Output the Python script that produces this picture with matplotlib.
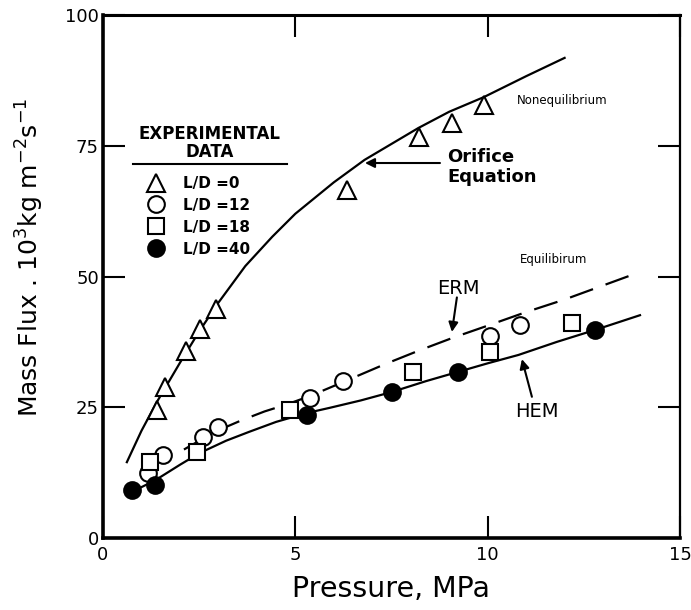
import matplotlib
matplotlib.use('Agg')
import matplotlib.pyplot as plt

# experimental data, pressure (MPa) vs mass flux (10^3 kg m^-2 s^-1)
ld0_p = [1.40, 1.61, 2.16, 2.52, 2.94, 6.34, 8.21, 9.07, 9.90]
ld0_g = [24.5, 28.9, 35.8, 40.0, 43.8, 66.5, 76.7, 79.3, 82.8]

ld12_p = [1.17, 1.56, 2.60, 2.99, 5.38, 6.24, 10.05, 10.84]
ld12_g = [12.4, 15.9, 19.3, 21.2, 26.8, 30.0, 38.6, 40.8]

ld18_p = [1.22, 2.44, 4.86, 8.06, 10.06, 12.19]
ld18_g = [14.5, 16.4, 24.5, 31.7, 35.6, 41.1]

ld40_p = [0.75, 1.35, 5.30, 7.51, 9.22, 12.79]
ld40_g = [9.2, 10.1, 23.5, 27.9, 31.7, 39.8]

# model curves
orifice_p = [0.62, 1.0, 1.4, 2.0, 2.5, 3.0, 3.7, 4.4, 5.0, 6.0, 6.8, 8.2, 9.0, 9.9, 11.0, 12.0]
orifice_g = [14.5, 20.5, 26.0, 33.5, 39.5, 45.0, 52.0, 57.6, 62.0, 68.0, 72.3, 78.4, 81.5, 84.3, 88.3, 91.8]

erm_p = [1.2, 1.6, 2.1, 2.6, 3.0, 3.6, 4.2, 4.8, 5.4, 6.3, 7.35, 8.2, 9.1, 10.0, 11.0, 12.0, 13.75]
erm_g = [14.2, 15.8, 16.9, 19.0, 20.6, 22.5, 24.2, 25.6, 27.2, 30.0, 33.3, 35.8, 38.3, 40.6, 43.2, 45.6, 50.3]

hem_p = [0.8, 1.35, 2.0, 2.5, 3.2, 3.8, 4.5, 5.3, 5.9, 6.7, 7.5, 8.4, 9.2, 10.0, 10.8, 11.8, 12.8, 13.96]
hem_g = [9.0, 11.0, 14.0, 16.2, 18.6, 20.3, 22.2, 23.9, 24.9, 26.3, 27.9, 30.0, 31.7, 33.4, 35.0, 37.5, 39.8, 42.6]

legend_labels = ['L/D =0', 'L/D =12', 'L/D =18', 'L/D =40']

fig = plt.figure(figsize=(6.91, 6.10), dpi=100)
ax = fig.add_axes([103 / 691, 1 - 538 / 610, 577 / 691, 523 / 610])

# curves
ax.plot(orifice_p, orifice_g, color='black', lw=1.6)
ax.plot(erm_p, erm_g, color='black', lw=1.6, dashes=(11, 6))
ax.plot(hem_p, hem_g, color='black', lw=1.6)

# points
mk = dict(linestyle='none', color='black', mew=1.5)
h0, = ax.plot(ld0_p, ld0_g, marker='^', ms=13, mfc='white', **mk)
h12, = ax.plot(ld12_p, ld12_g, marker='o', ms=12, mfc='white', **mk)
h18, = ax.plot(ld18_p, ld18_g, marker='s', ms=11, mfc='white', **mk)
h40, = ax.plot(ld40_p, ld40_g, marker='o', ms=12, mfc='black', **mk)

ax.set_xlim(0, 15)
ax.set_ylim(0, 100)
ax.set_xticks([0, 5, 10, 15])
ax.set_yticks([0, 25, 50, 75, 100])
ax.tick_params(direction='in', length=16, width=1.5, top=True, right=True, labelsize=13)
ax.tick_params(axis='x', pad=6)
ax.tick_params(axis='y', pad=3)
for side, w in [('left', 2.6), ('bottom', 2.6), ('top', 2.2), ('right', 1.6)]:
    ax.spines[side].set_linewidth(w)

ax.set_xlabel('Pressure, MPa', fontsize=20.5, labelpad=8)
ax.set_ylabel('Mass Flux . 10$^3$kg m$^{-2}$s$^{-1}$', fontsize=18)
ax.yaxis.set_label_coords(-0.098, 0.537)

# legend block
ax.text(0.185, 0.755, 'EXPERIMENTAL\nDATA', transform=ax.transAxes, ha='center', va='center',
        fontsize=12, fontweight='bold', linespacing=1.05)
ax.plot([0.052, 0.319], [0.715, 0.715], transform=ax.transAxes, color='black', lw=1.5)
ax.legend([h0, h12, h18, h40], legend_labels, loc='upper left', bbox_to_anchor=(0.066, 0.704),
          frameon=False, prop={'weight': 'bold', 'size': 11}, handlelength=1.2,
          handletextpad=1.15, labelspacing=0.45, borderaxespad=0)

# annotations
ax.text(10.76, 83.7, 'Nonequilibrium', fontsize=8.5, va='center')
ax.text(8.94, 71.0, 'Orifice\nEquation', fontsize=13, fontweight='bold', va='center', linespacing=1.15)
ax.text(10.84, 53.2, 'Equilibirum', fontsize=8.5, va='center')
ax.text(8.68, 47.8, 'ERM', fontsize=14, va='center')
ax.text(10.71, 24.1, 'HEM', fontsize=14, va='center')

arrow = dict(arrowstyle='-|>', lw=1.5, color='black', mutation_scale=14, shrinkA=0, shrinkB=0)
ax.annotate('', xy=(6.81, 71.7), xytext=(8.76, 71.7), arrowprops=arrow)
ax.annotate('', xy=(9.07, 39.4), xytext=(9.20, 46.0), arrowprops=arrow)
ax.annotate('', xy=(10.89, 34.2), xytext=(11.15, 27.0), arrowprops=arrow)

fig.savefig('out.png', dpi=100)
